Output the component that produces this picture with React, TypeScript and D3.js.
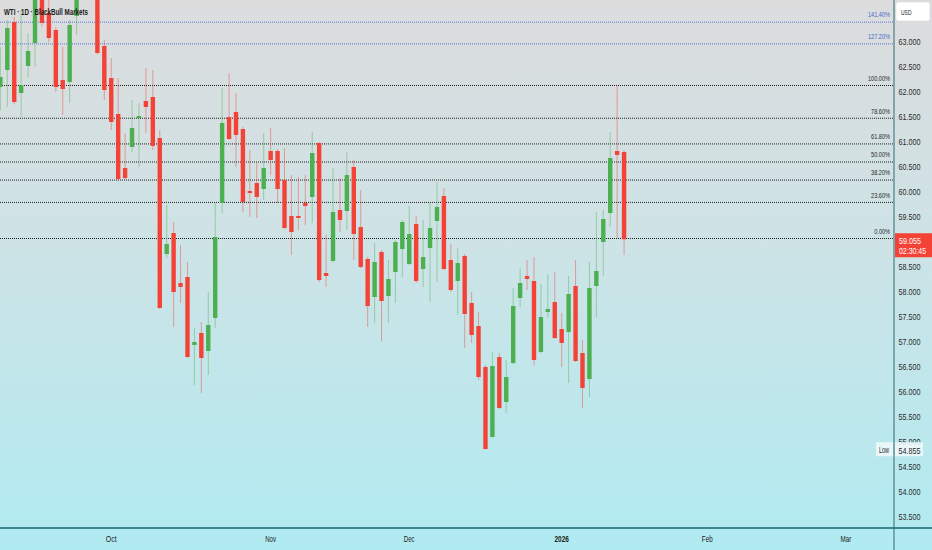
import React, { useEffect } from "react";
import * as d3 from "d3";

// ---- Data (WTI daily candles, bar index 0..90) ----
const opens = [62.10, 62.44, 63.40, 61.98, 62.52, 62.98, 64.20, 63.58, 63.24, 62.24, 62.20, 63.52, 64.00, 64.30, 64.10, 62.92, 62.28, 61.56, 60.48, 60.90, 61.48, 61.82, 61.90, 61.08, 58.76, 59.18, 58.18, 58.30, 56.94, 57.18, 56.82, 57.48, 59.78, 61.50, 61.60, 61.26, 60.02, 60.18, 60.06, 60.82, 60.82, 60.24, 59.52, 59.52, 59.78, 59.90, 60.98, 58.38, 58.62, 59.64, 59.62, 60.50, 59.30, 58.66, 57.90, 58.80, 57.92, 58.40, 58.86, 58.56, 59.36, 58.46, 58.88, 59.42, 59.92, 58.64, 58.22, 58.72, 57.78, 57.32, 56.50, 55.10, 56.70, 55.80, 56.58, 57.88, 58.32, 58.22, 56.80, 57.60, 57.80, 57.26, 57.20, 58.12, 56.78, 56.26, 58.12, 59.00, 59.58, 60.82, 60.80];
const highs = [62.90, 63.44, 63.50, 63.64, 63.18, 64.30, 64.40, 63.90, 63.30, 62.90, 63.44, 64.20, 64.50, 64.60, 64.30, 63.04, 62.68, 62.28, 61.18, 61.84, 61.78, 62.48, 62.44, 61.24, 59.74, 59.40, 58.94, 58.60, 57.28, 57.40, 58.00, 59.78, 62.08, 62.38, 61.98, 61.30, 60.84, 60.58, 61.18, 61.28, 60.86, 60.88, 60.34, 60.30, 60.34, 61.20, 61.00, 59.14, 60.48, 60.28, 60.80, 60.64, 60.04, 58.70, 58.98, 58.84, 58.64, 59.04, 59.44, 59.72, 59.52, 59.44, 59.80, 60.20, 60.08, 58.96, 58.88, 58.76, 58.00, 57.60, 56.54, 56.80, 56.78, 56.64, 58.08, 58.48, 58.64, 58.70, 58.16, 58.36, 58.40, 57.58, 58.32, 58.64, 57.04, 58.60, 59.60, 59.64, 61.20, 62.13, 60.84];
const lows = [61.64, 61.70, 61.75, 61.50, 62.28, 62.50, 63.30, 63.00, 62.00, 61.54, 61.78, 63.14, 63.90, 63.95, 62.75, 61.84, 61.24, 60.22, 60.24, 60.80, 60.50, 61.18, 60.84, 57.66, 58.68, 57.30, 57.78, 56.68, 56.14, 55.98, 56.34, 57.28, 59.58, 61.04, 60.50, 59.60, 59.50, 59.48, 59.84, 60.34, 59.78, 59.26, 58.74, 59.24, 59.34, 59.38, 58.20, 58.10, 58.60, 59.20, 59.24, 58.64, 58.48, 57.30, 57.38, 57.02, 57.38, 57.78, 58.30, 58.54, 58.18, 58.10, 57.80, 58.20, 58.44, 58.00, 57.54, 56.88, 56.98, 56.24, 54.855, 55.08, 55.66, 55.58, 56.56, 57.70, 58.04, 56.54, 56.78, 57.48, 57.06, 56.50, 56.18, 56.60, 55.68, 55.90, 57.50, 58.32, 59.30, 59.08, 58.74];
const closes = [62.30, 63.28, 61.80, 62.14, 62.82, 64.10, 63.38, 63.08, 62.10, 62.06, 63.34, 64.00, 64.30, 64.10, 62.78, 62.04, 61.40, 60.26, 60.28, 61.28, 61.52, 61.70, 60.92, 57.68, 58.96, 58.00, 58.10, 56.70, 57.00, 56.68, 57.34, 59.10, 61.38, 61.06, 61.14, 59.80, 59.98, 59.90, 60.48, 60.64, 60.06, 59.28, 59.20, 59.48, 59.72, 60.78, 58.24, 58.32, 59.60, 59.44, 60.34, 59.16, 58.50, 57.72, 58.60, 57.82, 58.26, 59.00, 59.40, 59.16, 58.22, 58.70, 59.28, 59.70, 58.46, 58.04, 58.58, 57.56, 57.14, 56.30, 54.86, 56.52, 55.68, 56.30, 57.72, 58.18, 58.26, 56.64, 57.50, 57.66, 57.08, 56.98, 57.96, 56.62, 56.08, 58.08, 58.42, 59.46, 60.68, 60.74, 59.055];

const priceTicks = [53.5, 54, 54.5, 55, 55.5, 56, 56.5, 57, 57.5, 58, 58.5, 59, 59.5, 60, 60.5, 61, 61.5, 62, 62.5, 63];

const timeLabels = ["Oct", "Nov", "Dec", "2026", "Feb", "Mar"];
const timeLabelBars = [16, 39, 59, 81, 102, 122];

const fibRatios = [0, 0.236, 0.382, 0.5, 0.618, 0.786, 1, 1.272, 1.414];
const fibLabels = ["0.00%", "23.60%", "38.20%", "50.00%", "61.80%", "78.60%", "100.00%", "127.20%", "141.40%"];
const fibLow = 59.07;
const fibHigh = 62.13;

const lastPriceLabel = "59.055";
const countdownLabel = "02:30:45";
const lowValue = 54.855;
const lowLabel = "54.855";
const titleText = "WTI · 1D · BlackBull Markets";

// ---- Layout ----
const W = 932;
const H = 550;
const axisX = 894;
const plotBottom = 528;

const UP = "#4caf50";
const DOWN = "#f44336";
const FONT = "'Liberation Sans', Arial, sans-serif";

const xScale = d3.scaleLinear().domain([0, 122]).range([0.37, 0.37 + 6.93 * 122]);
const yScale = d3.scaleLinear().domain([53.5, 63]).range([517, 42]);

function Txt(props: {
  x: number; y: number; w: number; size: number; fill?: string; anchor?: string; weight?: string | number; children: string;
}) {
  const { x, y, w, size, fill = "#2a2a2a", anchor = "start", weight = "normal", children } = props;
  return (
    <text
      x={x}
      y={y}
      dy="0.35em"
      fontSize={size}
      fontFamily={FONT}
      fill={fill}
      textAnchor={anchor}
      fontWeight={weight}
      textLength={w}
      lengthAdjust="spacingAndGlyphs"
    >
      {children}
    </text>
  );
}

export default function App() {
  useEffect(() => {
    document.body.style.margin = "0";
  }, []);

  const bodyW = 4.4;
  const lastClose = closes[closes.length - 1];
  const lastY = yScale(lastClose);

  const candles = opens.map((o, i) => {
    const c = closes[i];
    const up = c >= o;
    const color = up ? UP : DOWN;
    const cx = xScale(i);
    const yTop = yScale(Math.max(o, c));
    const yBot = yScale(Math.min(o, c));
    return (
      <g key={i}>
        <line x1={cx} x2={cx} y1={yScale(highs[i])} y2={yScale(lows[i])} stroke={color} strokeOpacity={0.45} strokeWidth={1} />
        <rect x={cx - bodyW / 2} y={yTop} width={bodyW} height={Math.max(1, yBot - yTop)} fill={color} />
      </g>
    );
  });

  const fibRange = fibHigh - fibLow;
  // tick labels fully covered by the current-price box are not visible
  const visibleTicks = priceTicks.filter((p) => Math.abs(yScale(p) - (lastY + 6)) > 12);

  return (
    <svg width={W} height={H} style={{ display: "block", position: "absolute", left: 0, top: 0 }}>
      <defs>
        <linearGradient id="bg" x1="0" y1="0" x2="0" y2="1">
          <stop offset="0%" stopColor="#dcdcdd" />
          <stop offset="45%" stopColor="#cde3e6" />
          <stop offset="100%" stopColor="#b0ebf1" />
        </linearGradient>
        <clipPath id="plotClip">
          <rect x={0} y={0} width={axisX} height={plotBottom} />
        </clipPath>
      </defs>
      <rect x={0} y={0} width={W} height={H} fill="url(#bg)" />

      {/* Fibonacci levels */}
      <g>
        {fibRatios.map((r, i) => {
          const p = fibLow + r * fibRange;
          const y = yScale(p);
          const blue = r > 1;
          return (
            <g key={i}>
              <line x1={0} x2={axisX - 1} y1={y} y2={y} stroke={blue ? "#5577d8" : "#1e1e1e"} strokeWidth={1} strokeDasharray="1 1" />
              <Txt x={890} y={y - 7.5} w={3.15 * fibLabels[i].length} size={8} anchor="end" fill={blue ? "#4766cf" : "#262626"}>
                {fibLabels[i]}
              </Txt>
            </g>
          );
        })}
      </g>

      {/* Candles */}
      <g clipPath="url(#plotClip)">{candles}</g>

      {/* Title */}
      <Txt x={4} y={11.5} w={84} size={9.5} weight="bold" fill="#1b1b1b">{titleText}</Txt>

      {/* Axes lines */}
      <line x1={0} x2={W} y1={plotBottom} y2={plotBottom} stroke="#3f8791" strokeWidth={2} />
      <line x1={axisX} x2={axisX} y1={0} y2={H} stroke="#2f6a73" strokeWidth={1} />

      {/* Price axis labels */}
      {visibleTicks.map((p, i) => (
        <Txt key={i} x={898.5} y={yScale(p)} w={22} size={9.5} fill="#2a2a2a">{p.toFixed(3)}</Txt>
      ))}

      {/* Time axis labels */}
      {timeLabels.map((t, i) => (
        <Txt key={i} x={xScale(timeLabelBars[i])} y={538.5} w={t.length * 3.6} size={9} anchor="middle" fill="#222" weight={t === "2026" ? "bold" : "normal"}>
          {t}
        </Txt>
      ))}

      {/* USD box */}
      <rect x={896} y={2} width={34} height={19} rx={2} fill="#ffffff" stroke="#d0d0d0" strokeWidth={0.5} />
      <Txt x={901} y={12} w={10.5} size={8} fill="#222">USD</Txt>

      {/* Current price box */}
      <rect x={895} y={lastY - 6} width={37} height={24} fill={DOWN} />
      <Txt x={899} y={lastY + 1} w={22} size={9.5} fill="#ffffff">{lastPriceLabel}</Txt>
      <Txt x={899} y={lastY + 11.5} w={27} size={9} fill="#ffffff">{countdownLabel}</Txt>

      {/* Low label */}
      <rect x={876} y={yScale(lowValue) - 7} width={17} height={14} fill="#eef8fa" fillOpacity={0.9} />
      <Txt x={879} y={yScale(lowValue) + 1} w={10} size={8.5} fill="#2a2a2a">Low</Txt>
      <rect x={895} y={yScale(lowValue) - 7} width={28} height={14} fill="#eef8fa" fillOpacity={0.9} />
      <Txt x={898.5} y={yScale(lowValue) + 1} w={22} size={9.5} fill="#2a2a2a">{lowLabel}</Txt>
    </svg>
  );
}
